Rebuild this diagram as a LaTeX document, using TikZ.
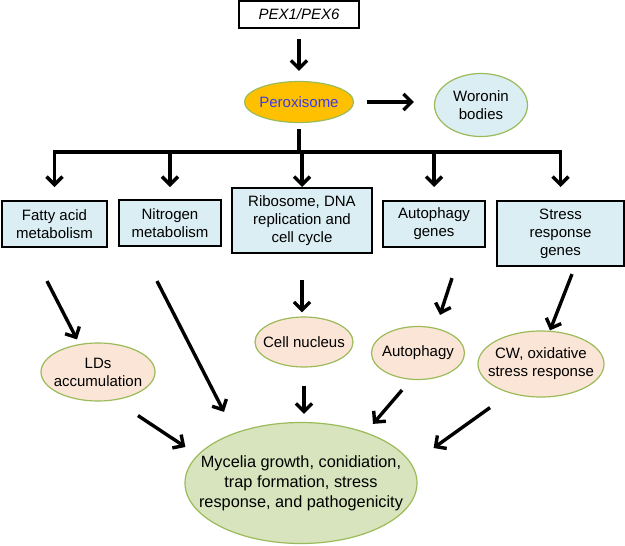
\documentclass[tikz,border=0pt]{standalone}
\usepackage{fontspec}
\setmainfont{Liberation Sans}
\usetikzlibrary{arrows.meta,shapes.geometric}

\definecolor{boxblue}{RGB}{219,238,244}
\definecolor{peach}{RGB}{251,229,214}
\definecolor{leaf}{RGB}{215,228,189}
\definecolor{rim}{RGB}{155,187,89}
\definecolor{amber}{RGB}{255,192,0}
\definecolor{textblue}{RGB}{60,60,230}

\tikzset{
  gene/.style={draw,line width=2.2pt,fill=boxblue,align=center,inner sep=2pt,
    font=\fontsize{15}{18}\selectfont},
  blob/.style={ellipse,draw=rim,line width=1.2pt,fill=peach,align=center,inner sep=-60pt,
    font=\fontsize{15}{18}\selectfont},
  link/.style={line width=3.4pt,-{Straight Barb[length=8pt,width=16pt]}}
}

\begin{document}
\begin{tikzpicture}[x=1pt,y=-1pt]
  \useasboundingbox (0,0) rectangle (625,546);

  % Top
  \node[gene,fill=white,minimum width=120pt,minimum height=27pt,
    font=\fontsize{15}{18}\selectfont\itshape] (pex) at (299,14.5) {PEX1/PEX6};
  \node[blob,fill=amber,text=textblue,minimum width=109pt,minimum height=41pt] (perox) at (299,102) {Peroxisome};
  \node[blob,fill=boxblue,minimum width=93pt,minimum height=63pt] (woronin) at (481,105) {Woronin\\bodies};
  \draw[link,shorten <=10pt,shorten >=10pt] (pex) -- (perox);
  \draw[link,shorten <=13pt,shorten >=20pt] (perox.east) -- (perox.east -| woronin.west);

  % Targets
  \node[gene,minimum width=105pt,minimum height=46pt] (fatty) at (54.5,224) {Fatty acid\\metabolism};
  \node[gene,minimum width=102pt,minimum height=46pt] (nitro) at (170,223) {Nitrogen\\metabolism};
  \node[gene,minimum width=140pt,minimum height=65pt] (ribo) at (302,220.5) {Ribosome, DNA\\replication and\\cell cycle};
  \node[gene,minimum width=102pt,minimum height=46pt] (autog) at (434,224) {Autophagy\\genes};
  \node[gene,minimum width=127pt,minimum height=65pt] (stress) at (560.5,233.5) {Stress\\response\\genes};

  % Branches
  \coordinate (bus) at (301,152);
  \coordinate (fork) at (301,187);
  \draw[line width=3.4pt,shorten <=6pt] (perox.south) -- (perox.south |- bus);
  \draw[line width=3.4pt,line cap=rect] (bus -| fatty) -- (bus -| stress);
  \foreach \n in {fatty,nitro,ribo,autog,stress}
    \draw[link] (bus -| \n) -- (fork -| \n);

  % Outcomes
  \node[blob,minimum width=114pt,minimum height=58pt] (lds) at (98,372) {LDs\\accumulation};
  \node[blob,minimum width=98pt,minimum height=50pt] (nuc) at (304,342) {Cell nucleus};
  \node[blob,minimum width=93pt,minimum height=53pt] (auto) at (418,353) {Autophagy};
  \node[blob,minimum width=126pt,minimum height=66pt] (cw) at (541,364) {CW, oxidative\\stress response};
  \node[blob,fill=leaf,minimum width=232pt,minimum height=121pt,
    font=\fontsize{16.3}{20}\selectfont] (myc) at (301,483)
    {Mycelia growth, conidiation,\\trap formation, stress\\response, and pathogenicity};

  \draw[link] ([shift={(-7.5,33)}]fatty.south) -- ([shift={(-21,-3)}]lds.north);
  \draw[link] ([shift={(-13,34)}]nitro.south) -- ([shift={(-77,-10)}]myc.north);
  \draw[link,shorten <=26pt,shorten >=4pt] (ribo.south) -- (ribo.south |- nuc.north);
  \draw[link] ([shift={(18,30)}]autog.south) -- ([shift={(22,-11)}]auto.north);
  \draw[link] ([shift={(11.5,7)}]stress.south) -- ([shift={(9,0)}]cw.north);
  \draw[link] ([shift={(40,14)}]lds.south) -- ([shift={(1,-36)}]myc.west);
  \draw[link,shorten <=18pt,shorten >=8pt] (nuc.south) -- (nuc.south |- myc.north);
  \draw[link] ([shift={(-16,10)}]auto.south) -- ([shift={(72,2)}]myc.north);
  \draw[link] ([shift={(-51,10)}]cw.south) -- ([shift={(16,-35)}]myc.east);

\end{tikzpicture}
\end{document}
